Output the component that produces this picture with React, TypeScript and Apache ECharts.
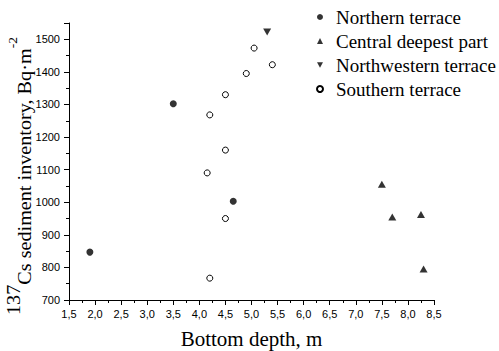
import React, { useEffect, useRef } from "react";
import * as echarts from "echarts";

const seriesNames = ["Northern terrace", "Central deepest part", "Northwestern terrace", "Southern terrace"];

const northernX = [1.9, 3.5, 4.65];
const northernY = [847, 1302, 1003];

const centralX = [7.5, 7.7, 8.25, 8.3];
const centralY = [1055, 955, 962, 795];

const northwesternX = [5.3];
const northwesternY = [1522];

const southernX = [4.2, 4.15, 4.5, 4.2, 4.5, 4.5, 4.9, 5.05, 5.4];
const southernY = [767, 1090, 950, 1268, 1160, 1330, 1395, 1473, 1422];

const xTitle = "Bottom depth, m";
const yTitleIsotope = "137";
const yTitleMain = "Cs sediment inventory, Bq·m";
const yTitleExp = "-2";

const pairs = (xs: number[], ys: number[]) => xs.map((x, i) => [x, ys[i]]);

const SERIF = "'Liberation Serif', 'Times New Roman', serif";
const SANS = "'Liberation Sans', Arial, sans-serif";

function measure(text: string, size: number): number {
  const c = document.createElement("canvas").getContext("2d");
  if (!c) return text.length * size * 0.5;
  c.font = `${size}px ${SERIF}`;
  return c.measureText(text).width;
}

export default function App() {
  const ref = useRef<HTMLDivElement>(null);
  useEffect(() => {
    if (!ref.current) return;
    const chart = echarts.init(ref.current, null, { renderer: "svg" });

    const mainSize = 18;
    const supSize = 18;
    const expSize = 12;
    const w1 = measure(yTitleIsotope, supSize);
    const w2 = measure(yTitleMain, mainSize);
    const w3 = measure(yTitleExp, expSize);
    const targetLen = 278;
    const sx = targetLen / (w1 + w2 + w3);

    const txt = (text: string, x: number, y: number, size: number) => ({
      type: "text",
      x,
      y,
      style: { text, fontFamily: SERIF, fontSize: size, fill: "#000", align: "left", verticalAlign: "middle" },
    });

    chart.setOption({
      animation: false,
      backgroundColor: "#fff",
      grid: { left: 69, right: 65, top: 23, bottom: 51, containLabel: false, outerBoundsMode: "none" },
      xAxis: {
        type: "value",
        min: 1.5,
        max: 8.5,
        interval: 0.5,
        splitLine: { show: false },
        axisLine: { onZero: false, lineStyle: { color: "#000", width: 1 } },
        axisTick: { show: true, inside: false, length: 5, lineStyle: { color: "#000" } },
        minorTick: { show: true, splitNumber: 2, length: 3, lineStyle: { color: "#000" } },
        axisLabel: {
          margin: 8,
          color: "#000",
          fontSize: 11,
          fontFamily: SANS,
          formatter: (v: number) => v.toFixed(1).replace(".", ","),
        },
      },
      yAxis: {
        type: "value",
        min: 700,
        max: 1550,
        interval: 100,
        splitLine: { show: false },
        axisLine: { onZero: false, lineStyle: { color: "#000", width: 1 } },
        axisTick: { show: true, inside: false, length: 5, lineStyle: { color: "#000" } },
        minorTick: { show: true, splitNumber: 2, length: 3, lineStyle: { color: "#000" } },
        axisLabel: {
          margin: 9,
          color: "#000",
          fontSize: 11,
          fontFamily: SANS,
          showMaxLabel: false,
          formatter: (v: number) => String(v),
        },
      },
      legend: {
        orient: "vertical",
        left: 316,
        top: 7,
        padding: 0,
        itemWidth: 6,
        itemHeight: 6,
        itemGap: 4,
        data: [
          { name: seriesNames[0], icon: "circle" },
          { name: seriesNames[1], icon: "triangle" },
          { name: seriesNames[2], icon: "path://M0,0L10,0L5,9Z" },
          { name: seriesNames[3], icon: "circle" },
        ],
        textStyle: { fontFamily: SERIF, fontSize: 19, lineHeight: 20, color: "#000", padding: [0, 0, 0, 8] },
      },
      graphic: [
        {
          type: "text",
          x: 251.5,
          y: 339,
          style: {
            text: xTitle,
            fontFamily: SERIF,
            fontSize: 21,
            fill: "#000",
            align: "center",
            verticalAlign: "middle",
          },
        },
        {
          type: "group",
          x: 24.9,
          y: 176 + targetLen / 2,
          rotation: Math.PI / 2,
          scaleX: sx,
          children: [
            txt(yTitleIsotope, 0, -11, supSize),
            txt(yTitleMain, w1, 0, mainSize),
            txt(yTitleExp, w1 + w2, -11.5, expSize),
          ],
        },
      ],
      series: [
        {
          name: seriesNames[0],
          type: "scatter",
          symbol: "circle",
          symbolSize: 7,
          itemStyle: { color: "#000" },
          data: pairs(northernX, northernY),
        },
        {
          name: seriesNames[1],
          type: "scatter",
          symbol: "triangle",
          symbolSize: [8, 7],
          itemStyle: { color: "#000" },
          data: pairs(centralX, centralY),
        },
        {
          name: seriesNames[2],
          type: "scatter",
          symbol: "triangle",
          symbolRotate: 180,
          symbolSize: [8, 7],
          itemStyle: { color: "#000" },
          data: pairs(northwesternX, northwesternY),
        },
        {
          name: seriesNames[3],
          type: "scatter",
          symbol: "circle",
          symbolSize: 6,
          itemStyle: { color: "#fff", borderColor: "#000", borderWidth: 1, opacity: 1 },
          data: pairs(southernX, southernY),
        },
      ],
    });
    return () => chart.dispose();
  }, []);
  return <div ref={ref} style={{ width: 499, height: 351, position: "absolute", left: 0, top: 0 }} />;
}
